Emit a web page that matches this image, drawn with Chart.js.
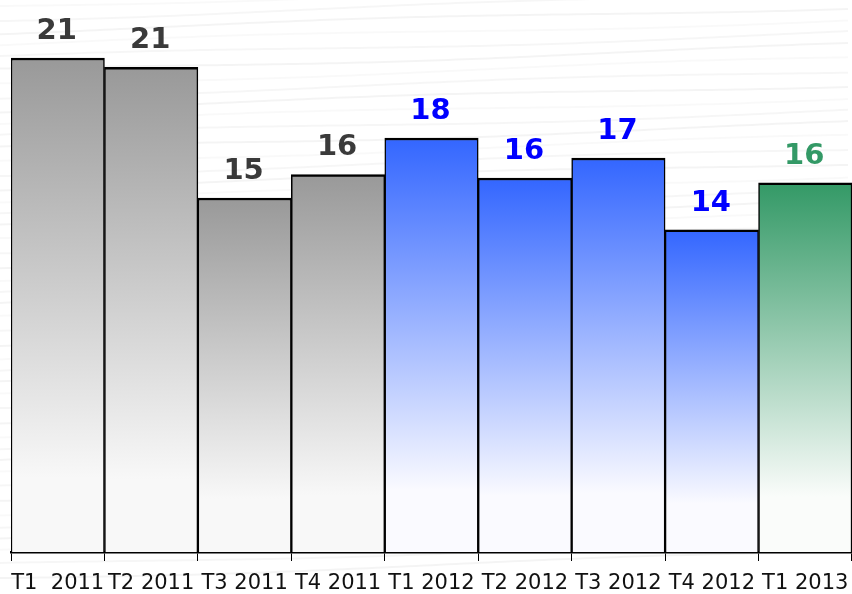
<!DOCTYPE html>
<html>
<head>
<meta charset="utf-8">
<script src="https://cdn.jsdelivr.net/npm/chart.js@4/dist/chart.umd.min.js"></script>
<style>
  html, body { margin: 0; padding: 0; background: #fff; }
  #wrap { width: 852px; height: 594px; position: relative; }
</style>
</head>
<body>
<div id="wrap"><canvas id="barChart"></canvas></div>
<script>
const trimestres = ["T1  2011", "T2 2011", "T3 2011", "T4 2011", "T1 2012", "T2 2012", "T3 2012", "T4 2012", "T1 2013"];
const valores = [21.0, 20.6, 15.05, 16.05, 17.6, 15.9, 16.75, 13.7, 15.7];
const ejeMax = 23;

// colores por año
const colorAnio = {
  "2011": { top: "#999999", bottom: "#f8f8f8", texto: "#3a3a3a" },
  "2012": { top: "#3366ff", bottom: "#fafaff", texto: "#0000ff" },
  "2013": { top: "#339966", bottom: "#fafcfa", texto: "#339966" },
};

function anioDe(i) {
  return trimestres[i].slice(-4);
}

function rellenoBarra(ctx) {
  const chart = ctx.chart;
  const c = colorAnio[anioDe(ctx.dataIndex)];
  if (!chart.chartArea || !chart.scales.y) return c.top;
  const yTop = chart.scales.y.getPixelForValue(valores[ctx.dataIndex]);
  const yBase = chart.scales.y.getPixelForValue(0);
  const g = chart.ctx.createLinearGradient(0, yTop, 0, yBase);
  g.addColorStop(0, c.top);
  g.addColorStop(0.85, c.bottom);
  g.addColorStop(1, c.bottom);
  return g;
}

// fondo con líneas suaves
const fondoPlugin = {
  id: "fondo",
  beforeDraw(chart) {
    const { ctx, width, height } = chart;
    ctx.save();
    ctx.fillStyle = "#ffffff";
    ctx.fillRect(0, 0, width, height);
    ctx.lineWidth = 2;
    for (let k = -4; k < 45; k++) {
      const y0 = k * 13 + 6;
      ctx.strokeStyle = "rgba(0,0,0," + (0.025 + (k % 3) * 0.01) + ")";
      ctx.beginPath();
      for (let x = 0; x <= width; x += 8) {
        const y = y0 - x * 0.03 + Math.sin(x / 140 + k) * 2.5;
        if (x === 0) ctx.moveTo(x, y);
        else ctx.lineTo(x, y);
      }
      ctx.stroke();
    }
    ctx.restore();
  },
};

// etiquetas encima de cada barra
const etiquetasPlugin = {
  id: "etiquetas",
  afterDatasetsDraw(chart) {
    const { ctx } = chart;
    const meta = chart.getDatasetMeta(0);
    ctx.save();
    ctx.font = "bold 29px 'DejaVu Sans', Verdana, sans-serif";
    ctx.textAlign = "center";
    ctx.textBaseline = "alphabetic";
    meta.data.forEach((bar, i) => {
      ctx.fillStyle = colorAnio[anioDe(i)].texto;
      ctx.fillText(String(Math.round(valores[i])), bar.x - 1, bar.y - 19);
    });
    ctx.restore();
  },
};

new Chart(document.getElementById("barChart"), {
  type: "bar",
  data: {
    labels: trimestres,
    datasets: [
      {
        data: valores,
        backgroundColor: rellenoBarra,
        borderColor: "#000000",
        borderWidth: { top: 2.5, left: 1.5, right: 1.5, bottom: 0 },
        borderSkipped: false,
        barPercentage: 1,
        categoryPercentage: 1,
      },
    ],
  },
  options: {
    responsive: true,
    maintainAspectRatio: false,
    animation: false,
    layout: { padding: { left: 11, right: 0, top: 11, bottom: 0 } },
    plugins: {
      legend: { display: false },
      tooltip: { enabled: false },
    },
    scales: {
      x: {
        grid: {
          display: true,
          drawOnChartArea: false,
          drawTicks: true,
          tickLength: 9,
          color: "#000000",
          lineWidth: 1,
          offset: true,
        },
        border: { display: true, color: "#000000", width: 2.5 },
        ticks: {
          color: "#111111",
          font: { family: "'DejaVu Sans', Verdana, sans-serif", size: 21 },
          padding: 10,
          maxRotation: 0,
          autoSkip: false,
        },
        afterFit(scale) {
          scale.height = 42;
          scale.paddingLeft = 0;
          scale.paddingRight = 0;
        },
      },
      y: {
        display: false,
        min: 0,
        max: ejeMax,
      },
    },
  },
  plugins: [fondoPlugin, etiquetasPlugin],
});
</script>
</body>
</html>
